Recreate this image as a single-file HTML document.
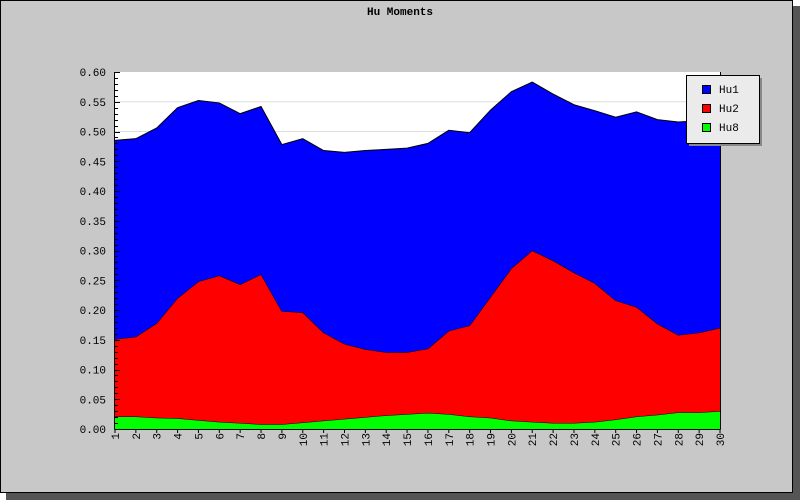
<!DOCTYPE html>
<html><head><meta charset="utf-8"><style>
html,body{margin:0;padding:0;width:800px;height:500px;overflow:hidden;background:#fff}
svg text{font-family:"Liberation Mono","DejaVu Sans Mono",monospace}
</style></head><body>
<svg id="chart" width="800" height="500" xmlns="http://www.w3.org/2000/svg">
<rect x="6" y="6" width="794" height="494" fill="#555"/>
<rect x="0.5" y="0.5" width="792" height="492" fill="#c8c8c8" stroke="#000" stroke-width="1"/>
<text x="400" y="15" text-anchor="middle" font-size="11" font-weight="bold">Hu Moments</text>
<rect x="115" y="72" width="605" height="357" fill="#fff"/>
<g id="grid"></g>
<g id="areas"></g>
<g id="axes"></g>
<g id="legend">
<rect x="689" y="78" width="73" height="68" fill="#888"/>
<rect x="686.5" y="75.5" width="73" height="68" fill="#ebebeb" stroke="#000"/>
<g><rect x="702.5" y="85.5" width="8" height="8" fill="#0000ff" stroke="#000"/><text x="719" y="93" font-size="11">Hu1</text></g>
<g><rect x="702.5" y="104.5" width="8" height="8" fill="#ff0000" stroke="#000"/><text x="719" y="112" font-size="11">Hu2</text></g>
<g><rect x="702.5" y="123.5" width="8" height="8" fill="#00ff00" stroke="#000"/><text x="719" y="131" font-size="11">Hu8</text></g>
</g>
</svg>
<script>
const categories = [1,2,3,4,5,6,7,8,9,10,11,12,13,14,15,16,17,18,19,20,21,22,23,24,25,26,27,28,29,30];
const hu8 = [.021,.021,.019,.018,.015,.012,.010,.008,.008,.011,.014,.017,.020,.023,.025,.027,.025,.021,.019,.014,.012,.010,.010,.012,.016,.021,.024,.028,.028,.030];
const hu2 = [.130,.134,.159,.202,.233,.246,.233,.252,.190,.185,.148,.126,.114,.106,.104,.108,.140,.153,.203,.256,.288,.273,.253,.233,.200,.184,.153,.130,.134,.140];
const hu1 = [.334,.333,.328,.320,.304,.290,.287,.282,.280,.292,.306,.322,.334,.341,.343,.345,.337,.324,.314,.297,.283,.280,.282,.290,.308,.328,.343,.358,.356,.345];
const yTicks = [0,0.05,0.10,0.15,0.20,0.25,0.30,0.35,0.40,0.45,0.50,0.55,0.60];

const NS="http://www.w3.org/2000/svg";
const X0=115,X1=720,Y0=429,Y1=72,YMAX=0.6;
function xs(i){return X0+(X1-X0)*i/(categories.length-1);}
function ys(v){return Y0-(Y0-Y1)*v/YMAX;}
function mk(tag,attrs,parent){const e=document.createElementNS(NS,tag);for(const k in attrs)e.setAttribute(k,attrs[k]);parent.appendChild(e);return e;}

const grid=document.getElementById('grid');
yTicks.forEach(t=>{if(t>0&&t<0.6){const l=mk('line',{x1:X0,x2:X1,y1:ys(t),y2:ys(t),stroke:'#ddd'},grid);

}});

const areas=document.getElementById('areas');
const series=[{n:'area-hu8',d:hu8,c:'#00ff00'},{n:'area-hu2',d:hu2,c:'#ff0000'},{n:'area-hu1',d:hu1,c:'#0000ff'}];
let base=categories.map(()=>0);
series.forEach(s=>{
  const top=base.map((b,i)=>b+s.d[i]);
  let pts=top.map((v,i)=>xs(i)+','+ys(v));
  for(let i=categories.length-1;i>=0;i--)pts.push(xs(i)+','+ys(base[i]));
  const p=mk('polygon',{points:pts.join(' '),fill:s.c,stroke:'none'},areas);
  
  
  const l=mk('polyline',{points:top.map((v,i)=>xs(i)+','+ys(v)).join(' '),fill:'none',stroke:'#000','stroke-width':1},areas);
  
  
  base=top;
});

const axes=document.getElementById('axes');
const ya=mk('line',{x1:X0-0.5,x2:X0-0.5,y1:Y1,y2:Y0+0.5,stroke:'#000'},axes);


const xa=mk('line',{x1:X0-0.5,x2:X1+0.5,y1:Y0+0.5,y2:Y0+0.5,stroke:'#000'},axes);


const ra=mk('line',{x1:X1+0.5,x2:X1+0.5,y1:Y1,y2:Y0+0.5,stroke:'#000'},axes);


for(let k=0;k<=60;k++){const v=k/100;const y=Math.round(ys(v))+0.5;
  const t=mk('line',{x1:X0,x2:X0+(k%5===0?5:3),y1:y,y2:y,stroke:'#000'},axes);
  
  }
yTicks.forEach(t=>{const e=mk('text',{x:106,y:ys(t)+4,'text-anchor':'end','font-size':11},axes);
  e.textContent=t.toFixed(2);
  
  });
categories.forEach((c,i)=>{const x=xs(i);
  const t=mk('line',{x1:x,x2:x,y1:Y0,y2:Y0+4,stroke:'#000'},axes);
  
  
  const e=mk('text',{x:x+4,y:Y0+4,'text-anchor':'end','font-size':11,transform:'rotate(-90 '+(x+4)+' '+(Y0+4)+')'},axes);
  e.textContent=String(c);
  
  });
</script>
</body></html>
